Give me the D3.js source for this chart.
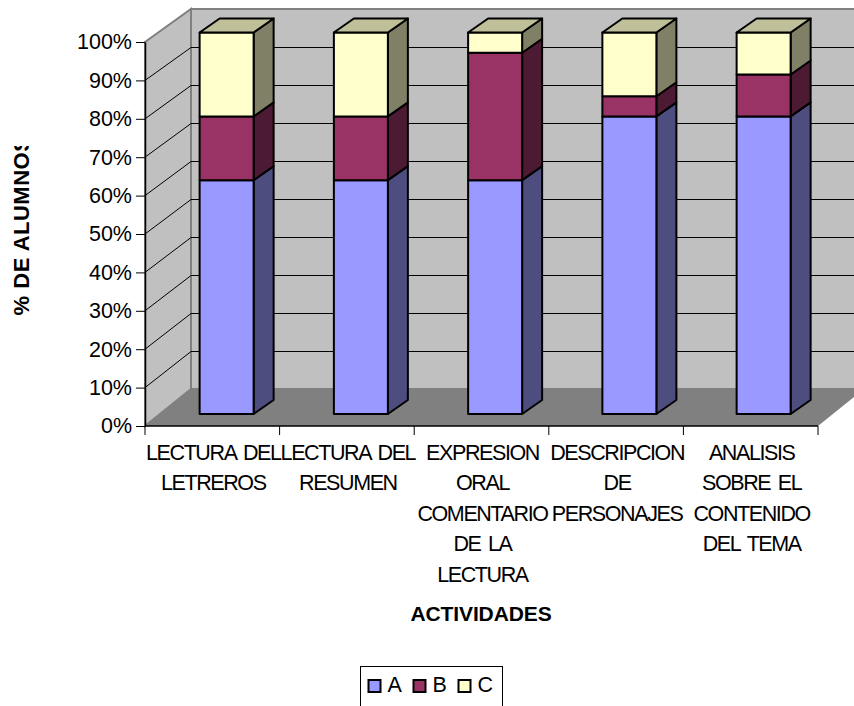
<!DOCTYPE html>
<html>
<head>
<meta charset="utf-8">
<script src="https://cdnjs.cloudflare.com/ajax/libs/d3/7.8.5/d3.min.js"></script>
<style>
  html, body { margin: 0; padding: 0; background: #fff; overflow: hidden; }
  text { font-family: "Liberation Sans", Arial, sans-serif; fill: #000; }
</style>
</head>
<body>
<div id="chart"></div>
<script>
// values (% of students, stacked)
const categories = [
    ["LECTURA DEL", "LETREROS"],
    ["LECTURA DEL", "RESUMEN"],
    ["EXPRESION", "ORAL", "COMENTARIO", "DE LA", "LECTURA"],
    ["DESCRIPCION", "DE", "PERSONAJES"],
    ["ANALISIS", "SOBRE EL", "CONTENIDO", "DEL TEMA"]
];
const seriesNames = ["A", "B", "C"];
const valuesA = [61.3, 61.3, 61.3, 78, 78];
const valuesB = [16.7, 16.7, 33.4, 5.3, 11];
const valuesC = [22, 22, 5.3, 16.7, 11];
const yTicks = [0, 10, 20, 30, 40, 50, 60, 70, 80, 90, 100];

const frontColors = ["#9999ff", "#993366", "#ffffcc"];
const sideColors = ["#4d4d80", "#4d1a33", "#808066"];
const topColor = "#bfbf99";

const width = 854, height = 706;
const depthX = 46;                    // floor / wall depth
const barDepthX = 20, barDepthY = -14;

const svg = d3.select("#chart").append("svg")
    .attr("width", width)
    .attr("height", height)
    .style("display", "block");

const catKeys = categories.map((d, i) => i);
const x = d3.scaleBand().domain(catKeys).range([145, 818]);
const xBar = d3.scaleBand().domain(catKeys).range([159.5, 830.75]);
const y = d3.scaleLinear().domain([0, 100]).range([426, 42]);
const yBack = d3.scaleLinear().domain([0, 100]).range([389, 9]);
const yBar = d3.scaleLinear().domain([0, 100]).range([414, 32.5]);

const poly = pts => pts.map(p => p.join(",")).join(" ");
const left = x.range()[0], right = x.range()[1];

// walls and floor
svg.append("polygon")
    .attr("points", poly([[left + depthX, yBack(100)], [width + 20, yBack(100)], [width + 20, yBack(0)], [left + depthX, yBack(0)]]))
    .attr("fill", "#c0c0c0").attr("stroke", "#808080").attr("stroke-width", 2);
svg.append("polygon")
    .attr("points", poly([[left, y(0)], [left, y(100)], [left + depthX, yBack(100)], [left + depthX, yBack(0)]]))
    .attr("fill", "#c0c0c0").attr("stroke", "#808080").attr("stroke-width", 2);
svg.append("polygon")
    .attr("points", poly([[left, y(0)], [right, y(0)], [right + depthX, yBack(0)], [left + depthX, yBack(0)]]))
    .attr("fill", "#808080");

// gridlines on side wall and back wall
const grid = svg.append("g").attr("stroke", "#000").attr("stroke-width", 1).attr("fill", "none");
yTicks.filter(d => d > 0 && d < 100).forEach(d => {
    grid.append("path")
        .attr("d", d3.line()([[left, y(d)], [left + depthX, yBack(d) + 0.5], [width, yBack(d) + 0.5]]));
});

// bars
const stacks = d3.stack().keys([0, 1, 2]).value((row, k) => row[k])(valuesA.map((d, i) => [d, valuesB[i], valuesC[i]]));
const barW = 54;
const barLeft = k => xBar(k) + (xBar.bandwidth() - barW) / 2;

stacks.forEach((layer, s) => {
    const g = svg.append("g").attr("stroke", "#000").attr("stroke-width", 2).attr("stroke-linejoin", "round");
    layer.forEach((seg, i) => {
        const l = barLeft(i), r = l + barW, y0 = yBar(seg[0]), y1 = yBar(seg[1]);
        g.append("polygon")
            .attr("points", poly([[r, y0], [r + barDepthX, y0 + barDepthY], [r + barDepthX, y1 + barDepthY], [r, y1]]))
            .attr("fill", sideColors[s]);
        g.append("rect")
            .attr("x", l).attr("y", y1)
            .attr("width", barW).attr("height", y0 - y1)
            .attr("fill", frontColors[s]);
        if (s === 2) {
            g.append("polygon")
                .attr("points", poly([[l, y1], [l + barDepthX, y1 + barDepthY], [r + barDepthX, y1 + barDepthY], [r, y1]]))
                .attr("fill", topColor);
        }
    });
});

// y axis
const yAxis = d3.axisLeft(y).tickValues(yTicks).tickFormat(d => d + "%").tickSize(9).tickSizeOuter(0);
const yG = svg.append("g").attr("transform", "translate(145,0)").call(yAxis);
yG.select(".domain").attr("stroke", "#000").attr("stroke-width", 1.5);
yG.selectAll(".tick line").attr("stroke", "#000");
yG.selectAll(".tick text").attr("x", -13).style("font-size", "21.5px").style("font-family", '"Liberation Sans", Arial, sans-serif').attr("fill", "#000");

// x axis line and edge ticks
svg.append("line")
    .attr("x1", left).attr("x2", right)
    .attr("y1", y(0)).attr("y2", y(0))
    .attr("stroke", "#000").attr("stroke-width", 1.5);
svg.selectAll(".xtick")
    .data(catKeys.map(k => x(k)).concat(right))
    .enter().append("line")
    .attr("class", "xtick")
    .attr("x1", d => d).attr("x2", d => d)
    .attr("y1", y(0)).attr("y2", y(0) + 9)
    .attr("stroke", "#000");

// category labels
const labels = svg.selectAll(".xlabel")
    .data(categories)
    .enter().append("text")
    .attr("class", "xlabel")
    .attr("text-anchor", "middle")
    .style("font-size", "21.5px")
    .style("letter-spacing", "-1.4px")
    .style("word-spacing", "3px");
labels.selectAll("tspan")
    .data((d, i) => d.map((line, j) => ({ line, j, i })))
    .enter().append("tspan")
    .attr("x", d => x(d.i) + x.bandwidth() / 2 + 1)
    .attr("y", d => 460 + d.j * 30.4)
    .text(d => d.line);

// axis titles
svg.append("text")
    .attr("x", 481).attr("y", 621)
    .attr("text-anchor", "middle")
    .style("font-size", "21px").style("font-weight", "bold").style("letter-spacing", "-0.1px")
    .text("ACTIVIDADES");

svg.append("clipPath").attr("id", "ytitle-clip")
    .append("rect").attr("x", 0).attr("y", 146).attr("width", 60).attr("height", 300);
svg.append("g").attr("clip-path", "url(#ytitle-clip)")
    .append("text")
    .attr("transform", "translate(29,226) rotate(-90)")
    .attr("text-anchor", "middle")
    .style("font-size", "22px").style("font-weight", "bold").style("letter-spacing", "0.5px")
    .text("% DE ALUMNOS");

// legend, cut by the bottom of the picture
svg.append("rect")
    .attr("x", 360.5).attr("y", 666.5)
    .attr("width", 142).attr("height", 60)
    .attr("fill", "#fff").attr("stroke", "#000").attr("stroke-width", 1);
const legendX = d3.scalePoint().domain(seriesNames).range([368.5, 458.5]);
const legend = svg.selectAll(".legend-item").data(seriesNames).enter().append("g")
    .attr("class", "legend-item")
    .attr("transform", d => `translate(${legendX(d)},680)`);
legend.append("rect")
    .attr("width", 12).attr("height", 12)
    .attr("fill", (d, i) => frontColors[i])
    .attr("stroke", "#000").attr("stroke-width", 2);
legend.append("text")
    .attr("x", 19).attr("y", 12)
    .style("font-size", "21.5px")
    .text(d => d);
</script>
</body>
</html>
